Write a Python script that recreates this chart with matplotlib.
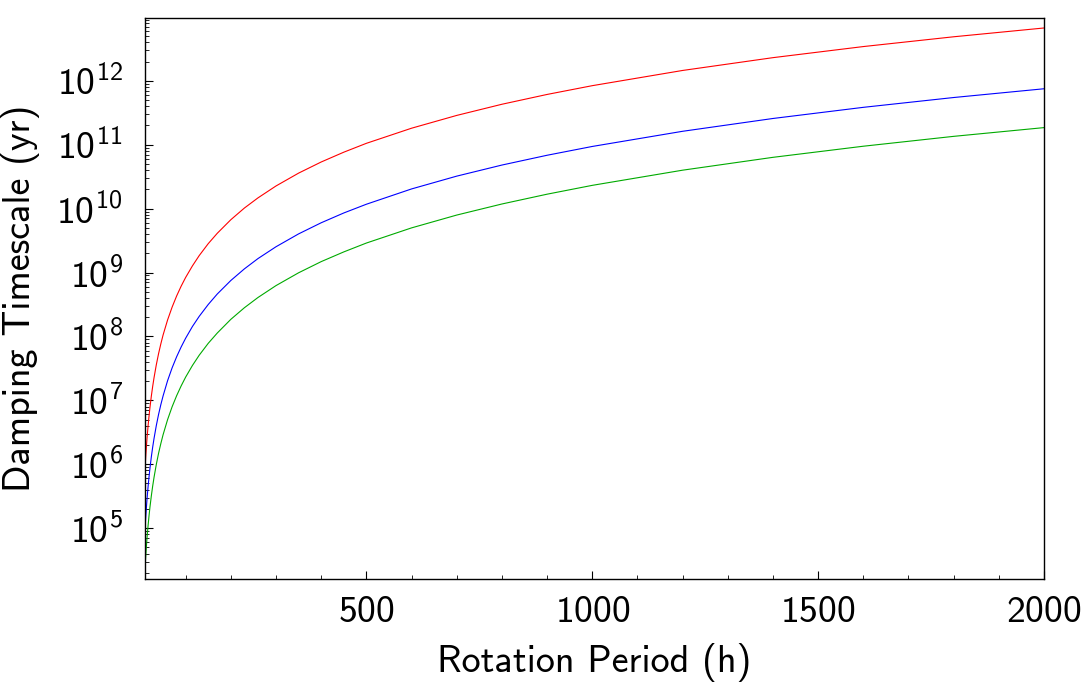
import numpy as np
import matplotlib
matplotlib.use("Agg")
import matplotlib.pyplot as plt
from matplotlib.ticker import LogLocator, MultipleLocator, NullFormatter

plt.rcParams["font.family"] = ["cmss10", "DejaVu Sans"]
plt.rcParams["mathtext.fontset"] = "custom"
plt.rcParams["mathtext.rm"] = "cmss10"
plt.rcParams["mathtext.it"] = "cmss10"
plt.rcParams["axes.formatter.use_mathtext"] = True

period = [11, 12, 13, 14, 15, 17, 19, 21, 24, 27, 30, 35, 40, 45, 50, 60, 70,
          80, 90, 100, 115, 130, 150, 170, 200, 230, 260, 300, 350, 400, 450,
          500, 600, 700, 800, 900, 1000, 1200, 1400, 1600, 1800, 2000]

# Damping timescale (yr) for the three curves
red = [1.11e6, 1.45e6, 1.84e6, 2.30e6, 2.83e6, 4.11e6, 5.74e6, 7.76e6, 1.16e7,
       1.65e7, 2.26e7, 3.59e7, 5.36e7, 7.63e7, 1.05e8, 1.81e8, 2.87e8, 4.29e8,
       6.11e8, 8.38e8, 1.27e9, 1.84e9, 2.83e9, 4.11e9, 6.70e9, 1.02e10,
       1.47e10, 2.26e10, 3.59e10, 5.36e10, 7.63e10, 1.05e11, 1.81e11, 2.87e11,
       4.29e11, 6.11e11, 8.38e11, 1.45e12, 2.30e12, 3.43e12, 4.88e12, 6.70e12]
blue = [1.25e5, 1.62e5, 2.06e5, 2.57e5, 3.16e5, 4.61e5, 6.43e5, 8.68e5, 1.30e6,
        1.85e6, 2.53e6, 4.02e6, 6.00e6, 8.54e6, 1.17e7, 2.03e7, 3.22e7, 4.80e7,
        6.83e7, 9.38e7, 1.43e8, 2.06e8, 3.16e8, 4.61e8, 7.50e8, 1.14e9, 1.65e9,
        2.53e9, 4.02e9, 6.00e9, 8.54e9, 1.17e10, 2.03e10, 3.22e10, 4.80e10,
        6.83e10, 9.38e10, 1.62e11, 2.57e11, 3.84e11, 5.47e11, 7.50e11]
green = [3.07e4, 3.99e4, 5.08e4, 6.34e4, 7.80e4, 1.13e5, 1.58e5, 2.14e5, 3.19e5,
         4.55e5, 6.24e5, 9.90e5, 1.48e6, 2.10e6, 2.89e6, 4.99e6, 7.92e6, 1.18e7,
         1.68e7, 2.31e7, 3.51e7, 5.08e7, 7.80e7, 1.13e8, 1.85e8, 2.81e8, 4.06e8,
         6.24e8, 9.90e8, 1.48e9, 2.10e9, 2.89e9, 4.99e9, 7.92e9, 1.18e10,
         1.68e10, 2.31e10, 3.99e10, 6.34e10, 9.46e10, 1.35e11, 1.85e11]

fig = plt.figure(figsize=(10.85, 6.82), dpi=100)
ax = fig.add_axes([145 / 1085, 1 - 579 / 682, (1044 - 145) / 1085, (579 - 18) / 682])

ax.plot(period, red, color="#ff0000", lw=0.8)
ax.plot(period, blue, color="#0000ff", lw=0.8)
ax.plot(period, green, color="#00aa00", lw=0.8)

ax.set_yscale("log")
ax.set_xlim(10, 2000)
ax.set_ylim(1.6e4, 9.6e12)

ax.xaxis.set_major_locator(MultipleLocator(500))
ax.xaxis.set_minor_locator(MultipleLocator(100))
ax.yaxis.set_major_locator(LogLocator(base=10, numticks=20))
ax.yaxis.set_minor_locator(LogLocator(base=10, subs=np.arange(2, 10), numticks=20))
ax.yaxis.set_minor_formatter(NullFormatter())

ax.tick_params(which="both", direction="in", top=False, right=False, labelsize=27)
ax.tick_params(which="major", length=6, width=0.8)
ax.tick_params(which="minor", length=3, width=0.6)
ax.tick_params(axis="x", pad=12)
ax.tick_params(axis="y", pad=16)
for s in ax.spines.values():
    s.set_linewidth(1.0)

ax.set_xlabel("Rotation Period (h)", fontsize=27.5, labelpad=10)
ax.set_ylabel("Damping Timescale (yr)", fontsize=27.5, labelpad=12)

fig.savefig("out.png", dpi=100)
